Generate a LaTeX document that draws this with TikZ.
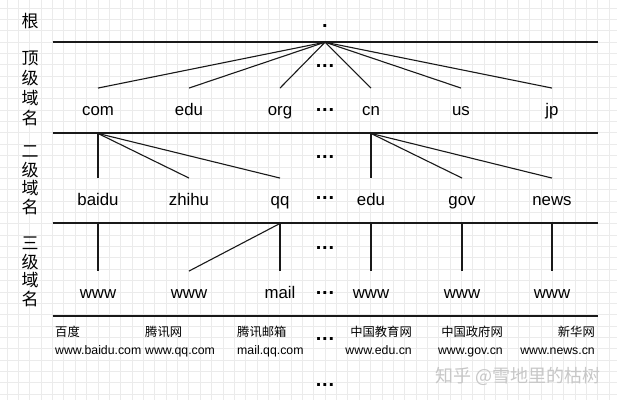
\documentclass[tikz,border=0pt]{standalone}
\usepackage{fontspec}
\setmainfont{Liberation Sans}
\newfontfamily\cjk{Noto Sans CJK SC}
\begin{document}
\begin{tikzpicture}[x=1pt,y=-1pt,
  gridline/.style={draw=black!8, line width=0.8pt},
  hline/.style={draw=black!90, line width=1.2pt},
  conn/.style={draw=black!90, line width=1.1pt},
  dom/.style={font=\fontsize{16.8}{18}\selectfont, inner sep=0pt, minimum height=45pt, text height=12pt, text depth=3.5pt},
  lvl/.style={font=\cjk\fontsize{17}{18.5}\selectfont, align=center, inner sep=0pt},
  smalltxt/.style={font=\fontsize{12.3}{14}\selectfont, inner sep=0pt},
  smallcjk/.style={font=\cjk\fontsize{12.3}{14}\selectfont, inner sep=0pt},
  dotsnode/.style={font=\bfseries\fontsize{20}{20}\selectfont, inner sep=0pt},
  wmark/.style={font=\cjk\fontsize{18}{20}\selectfont, text=black!22, inner sep=0pt}
]
\useasboundingbox (0,0) rectangle (617,400);
\fill[white] (0,0) rectangle (617,400);
% grid
\foreach \i in {-4,...,49} \draw[gridline] ({52.5+\i*11.36},0) -- ({52.5+\i*11.36},400);
\foreach \j in {-3,...,31} \draw[gridline] (0,{42+\j*11.36}) -- (617,{42+\j*11.36});
% horizontal separators
\draw[hline] (52.5,42) -- (598,42);
\draw[hline] (52.5,133) -- (598,133);
\draw[hline] (52.5,223) -- (598,223);
\draw[hline] (52.5,316) -- (598,316);
% left labels
\node[lvl] (lroot) at (30,21) {根};
\node[lvl, font=\cjk\fontsize{17}{20}\selectfont] (ltop) at (30,88) {顶\\级\\域\\名};
\node[lvl] (lsec) at (30,180) {二\\级\\域\\名};
\node[lvl] (lthird) at (30,272) {三\\级\\域\\名};
% root
\node[dotsnode, minimum height=32pt] (root) at (325,26) {.};
% top level
\node[dom] (com) at (98,110.75) {com};
\node[dom] (edu) at (189,110.75) {edu};
\node[dom] (org) at (280,110.75) {org};
\node[dom] (cn) at (371,110.75) {cn};
\node[dom] (us) at (461,110.75) {us};
\node[dom] (jp) at (552,110.75) {jp};
% second level
\node[dom] (baidu) at (98,200.75) {baidu};
\node[dom] (zhihu) at (189,200.75) {zhihu};
\node[dom] (qq) at (280,200.75) {qq};
\node[dom] (edu2) at (371,200.75) {edu};
\node[dom] (gov) at (462,200.75) {gov};
\node[dom] (news) at (552,200.75) {news};
% third level
\node[dom] (w1) at (98,293.75) {www};
\node[dom] (w2) at (189,293.75) {www};
\node[dom] (mail) at (280,293.75) {mail};
\node[dom] (w3) at (371,293.75) {www};
\node[dom] (w4) at (462,293.75) {www};
\node[dom] (w5) at (552,293.75) {www};
% connectors
\foreach \t in {com,edu,org,cn,us,jp} \draw[conn] (root.south) -- (\t.north);
\foreach \t in {baidu,zhihu,qq} \draw[conn] (com.south) -- (\t.north);
\foreach \t in {edu2,gov,news} \draw[conn] (cn.south) -- (\t.north);
\draw[conn] (baidu.south) -- (w1.north);
\draw[conn] (qq.south) -- (w2.north);
\draw[conn] (qq.south) -- (mail.north);
\draw[conn] (edu2.south) -- (w3.north);
\draw[conn] (gov.south) -- (w4.north);
\draw[conn] (news.south) -- (w5.north);
% ellipses
\foreach \y [count=\k] in {65.7,110,156.7,198.3,247.7,292.7,339,385}
  \node[dotsnode] (dots\k) at (325,\y) {.\kern0.8pt.\kern0.8pt.};
% bottom descriptions
\node[smallcjk, anchor=base west] (d1) at (55,336) {百度};
\node[smalltxt, anchor=base west] (u1) at (55,354) {www.baidu.com};
\node[smallcjk, anchor=base west] (d2) at (145,336) {腾讯网};
\node[smalltxt, anchor=base west] (u2) at (145,354) {www.qq.com};
\node[smallcjk, anchor=base west] (d3) at (237,336) {腾讯邮箱};
\node[smalltxt, anchor=base west] (u3) at (237,354) {mail.qq.com};
\node[smallcjk, anchor=base east] (d4) at (412,336) {中国教育网};
\node[smalltxt, anchor=base east] (u4) at (412,354) {www.edu.cn};
\node[smallcjk, anchor=base east] (d5) at (503,336) {中国政府网};
\node[smalltxt, anchor=base east] (u5) at (503,354) {www.gov.cn};
\node[smallcjk, anchor=base east] (d6) at (595,336) {新华网};
\node[smalltxt, anchor=base east] (u6) at (595,354) {www.news.cn};
% watermark
\node[wmark, anchor=base west] (wm) at (435,382) {知乎 @雪地里的枯树};
\end{tikzpicture}
\end{document}
